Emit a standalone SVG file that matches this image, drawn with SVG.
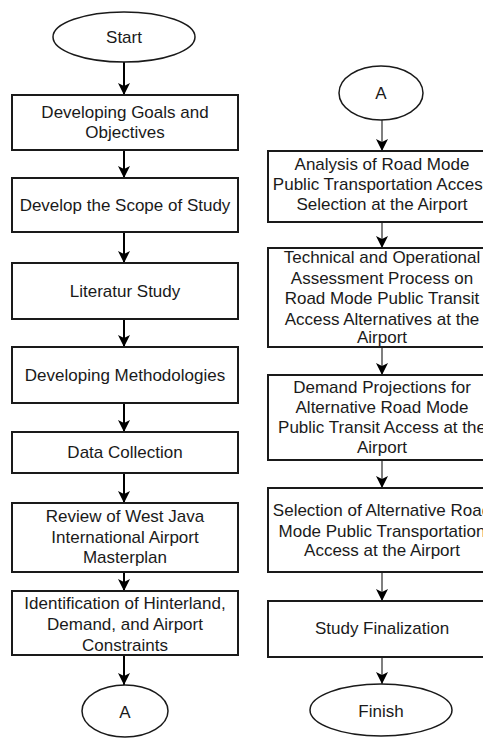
<svg xmlns="http://www.w3.org/2000/svg" width="483" height="738" viewBox="0 0 483 738">
<style>
.box{fill:#fff;stroke:#1a1a1a;stroke-width:2}
.ell{fill:#fff;stroke:#1a1a1a;stroke-width:1.5}
text{font-family:"Liberation Sans",Arial,sans-serif;font-size:17px;fill:#1a1a1a;text-anchor:middle}
.cl{stroke:#000;stroke-width:2;fill:none}
.cr{stroke:#555;stroke-width:1.5;fill:none}
</style>
<defs>
<marker id="ah" markerUnits="userSpaceOnUse" markerWidth="12" markerHeight="13" refX="6" refY="12" orient="auto-start-reverse" viewBox="0 0 12 13">
<path d="M0,0 L6,3 L12,0 L6,12 Z" fill="#000"/>
</marker>
<marker id="ahd" markerUnits="userSpaceOnUse" markerWidth="12" markerHeight="13" refX="6" refY="12" viewBox="0 0 12 13" orient="0">
<path d="M0,0 L6,3 L12,0 L6,12 Z" fill="#000"/>
</marker>
</defs>
<rect width="483" height="738" fill="#fff"/>
<g id="connectors">
<line class="cl" x1="124" y1="62" x2="124" y2="95" marker-end="url(#ahd)"/>
<line class="cl" x1="124" y1="150" x2="124" y2="178" marker-end="url(#ahd)"/>
<line class="cl" x1="124" y1="232" x2="124" y2="263" marker-end="url(#ahd)"/>
<line class="cl" x1="124" y1="319" x2="124" y2="347" marker-end="url(#ahd)"/>
<line class="cl" x1="124" y1="403" x2="124" y2="432" marker-end="url(#ahd)"/>
<line class="cl" x1="124" y1="473" x2="124" y2="503" marker-end="url(#ahd)"/>
<line class="cl" x1="124" y1="572" x2="124" y2="591" marker-end="url(#ahd)"/>
<line class="cl" x1="124" y1="655" x2="124" y2="685" marker-end="url(#ahd)"/>
<line class="cr" x1="382" y1="120" x2="382" y2="151" marker-end="url(#ahd)"/>
<line class="cr" x1="382" y1="222" x2="382" y2="248" marker-end="url(#ahd)"/>
<line class="cr" x1="382" y1="347" x2="382" y2="375" marker-end="url(#ahd)"/>
<line class="cr" x1="382" y1="460" x2="382" y2="488" marker-end="url(#ahd)"/>
<line class="cr" x1="382" y1="572" x2="382" y2="601" marker-end="url(#ahd)"/>
<line class="cr" x1="382" y1="657" x2="382" y2="684" marker-end="url(#ahd)"/>
</g>
<g id="start"><ellipse class="ell" cx="124" cy="37" rx="71" ry="25"/><text x="124" y="43">Start</text></g>
<g id="goals"><rect class="box" x="12" y="95" width="226" height="55"/><text x="125" y="118">Developing Goals and</text><text x="125" y="138">Objectives</text></g>
<g id="scope"><rect class="box" x="12" y="178" width="226" height="54"/><text x="125" y="211">Develop the Scope of Study</text></g>
<g id="literature"><rect class="box" x="12" y="263" width="226" height="56"/><text x="125" y="297">Literatur Study</text></g>
<g id="methodologies"><rect class="box" x="12" y="347" width="226" height="56"/><text x="125" y="381">Developing Methodologies</text></g>
<g id="datacollection"><rect class="box" x="12" y="432" width="226" height="41"/><text x="125" y="458">Data Collection</text></g>
<g id="review"><rect class="box" x="12" y="503" width="226" height="69"/><text x="125" y="522">Review of West Java</text><text x="125" y="543">International Airport</text><text x="125" y="563">Masterplan</text></g>
<g id="identification"><rect class="box" x="12" y="591" width="226" height="64"/><text x="125" y="609">Identification of Hinterland,</text><text x="125" y="630">Demand, and Airport</text><text x="125" y="651">Constraints</text></g>
<g id="connectorA1"><ellipse class="ell" cx="125" cy="711" rx="43" ry="26"/><text x="125" y="718">A</text></g>
<g id="connectorA2"><ellipse class="ell" cx="381" cy="93" rx="42" ry="27"/><text x="381" y="99">A</text></g>
<g id="analysis"><rect class="box" x="268" y="151" width="230" height="71"/><text x="382" y="170">Analysis of Road Mode</text><text x="382" y="190">Public Transportation Access</text><text x="382" y="210">Selection at the Airport</text></g>
<g id="assessment"><rect class="box" x="268" y="248" width="230" height="99"/><text x="382" y="263">Technical and Operational</text><text x="382" y="284">Assessment Process on</text><text x="382" y="304">Road Mode Public Transit</text><text x="382" y="325">Access Alternatives at the</text><text x="382" y="343">Airport</text></g>
<g id="demand"><rect class="box" x="268" y="375" width="230" height="85"/><text x="382" y="393">Demand Projections for</text><text x="382" y="413">Alternative Road Mode</text><text x="382" y="433">Public Transit Access at the</text><text x="382" y="453">Airport</text></g>
<g id="selection"><rect class="box" x="268" y="488" width="230" height="84"/><text x="382" y="516">Selection of Alternative Road</text><text x="382" y="537">Mode Public Transportation</text><text x="382" y="556">Access at the Airport</text></g>
<g id="finalization"><rect class="box" x="268" y="601" width="230" height="56"/><text x="382" y="634">Study Finalization</text></g>
<g id="finish"><ellipse class="ell" cx="381" cy="710" rx="71" ry="26"/><text x="381" y="717">Finish</text></g>
</svg>
